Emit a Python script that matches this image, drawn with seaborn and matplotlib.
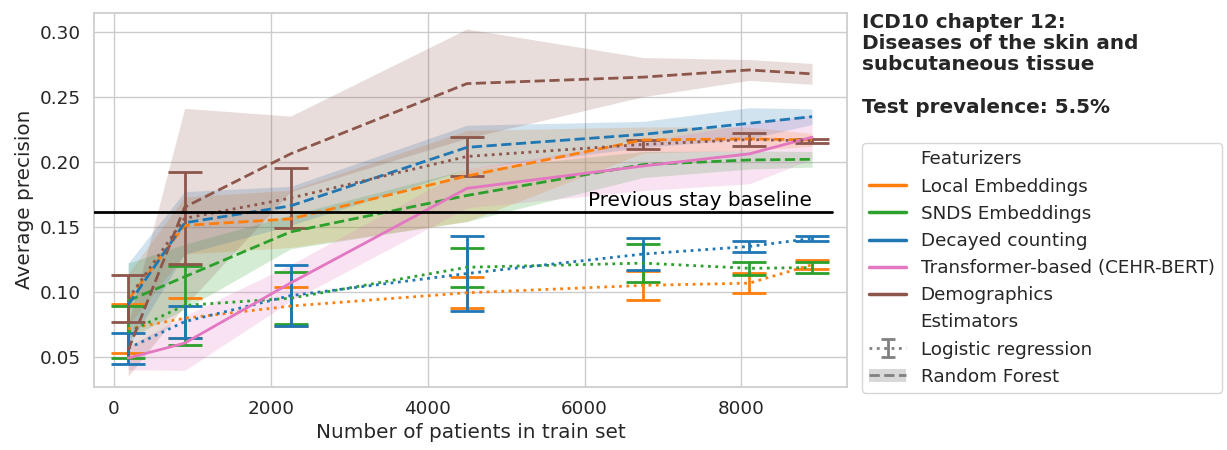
import numpy as np
import pandas as pd
import matplotlib
matplotlib.use("Agg")
import matplotlib.pyplot as plt
import seaborn as sns
from matplotlib.lines import Line2D
from matplotlib.patches import Patch

# ===============================
# data
# ===============================
n_patients = [180, 900, 2250, 4500, 6750, 8100, 8900]

featurizers = ["Local Embeddings", "SNDS Embeddings", "Decayed counting",
               "Transformer-based (CEHR-BERT)", "Demographics"]
colors = ["#ff7f0e", "#2ca02c", "#1f77b4", "#e377c2", "#8c564b"]

# logistic regression: mean + half size of error bar
lr_local = [0.0715, 0.0796, 0.089, 0.0992, 0.1049, 0.1066, 0.1208]
lr_local_err = [0.0188, 0.0154, 0.015, 0.012, 0.0113, 0.0075, 0.0036]
lr_snds = [0.069, 0.0895, 0.095, 0.1188, 0.122, 0.118, 0.1186]
lr_snds_err = [0.0202, 0.0305, 0.0198, 0.015, 0.0145, 0.0052, 0.0045]
lr_decay = [0.0565, 0.077, 0.097, 0.114, 0.129, 0.1348, 0.141]
lr_decay_err = [0.012, 0.0122, 0.0235, 0.0288, 0.012, 0.0045, 0.0022]
lr_demo = [0.0946, 0.1564, 0.172, 0.204, 0.2133, 0.217, 0.216]
lr_demo_err = [0.0182, 0.0354, 0.0233, 0.015, 0.0035, 0.0049, 0.0018]

# random forest: mean + half width of band
rf_local = [0.0937, 0.151, 0.156, 0.189, 0.2167, 0.2175, 0.2167]
rf_local_sd = [0.02, 0.022, 0.022, 0.035, 0.01, 0.009, 0.005]
rf_snds = [0.093, 0.1115, 0.146, 0.174, 0.1978, 0.2013, 0.2018]
rf_snds_sd = [0.029, 0.025, 0.013, 0.02, 0.01, 0.007, 0.006]
rf_decay = [0.09, 0.153, 0.166, 0.211, 0.221, 0.2295, 0.2346]
rf_decay_sd = [0.032, 0.024, 0.015, 0.017, 0.01, 0.012, 0.006]
rf_demo = [0.055, 0.165, 0.206, 0.260, 0.265, 0.2705, 0.2675]
rf_demo_sd = [0.02, 0.076, 0.029, 0.042, 0.015, 0.008, 0.008]

# transformer (CEHR-BERT)
bert = [0.049, 0.0605, 0.1067, 0.1795, 0.1967, 0.206, 0.2188]
bert_sd = [0.009, 0.021, 0.014, 0.015, 0.019, 0.023, 0.017]

baseline = 0.1615

# ===============================
# long table
# ===============================
lr_series = {"Local Embeddings": (lr_local, lr_local_err),
             "SNDS Embeddings": (lr_snds, lr_snds_err),
             "Decayed counting": (lr_decay, lr_decay_err),
             "Demographics": (lr_demo, lr_demo_err)}
band_series = {("Local Embeddings", "Random Forest"): (rf_local, rf_local_sd),
               ("SNDS Embeddings", "Random Forest"): (rf_snds, rf_snds_sd),
               ("Decayed counting", "Random Forest"): (rf_decay, rf_decay_sd),
               ("Transformer-based (CEHR-BERT)", "Transformer"): (bert, bert_sd),
               ("Demographics", "Random Forest"): (rf_demo, rf_demo_sd)}

rows = []
for feat, (m, e) in lr_series.items():
    for n, v in zip(n_patients, m):
        rows.append({"featurizer": feat, "estimator": "Logistic regression", "n": n, "ap": v})
for (feat, est), (m, s) in band_series.items():
    for n, v in zip(n_patients, m):
        rows.append({"featurizer": feat, "estimator": est, "n": n, "ap": v})
df = pd.DataFrame(rows)

palette = dict(zip(featurizers, colors))

# ===============================
# plot
# ===============================
sns.set_theme(style="whitegrid", font_scale=1.2)
plt.rcParams["font.family"] = ["DejaVu Sans"]

fig = plt.figure(figsize=(12.27, 4.5), dpi=100)
ax = fig.add_axes([0.0766, 0.1407, 0.6137, 0.8313])

for feat in featurizers:
    c = palette[feat]
    if feat in lr_series:
        m, e = lr_series[feat]
        ax.errorbar(n_patients, m, yerr=e, fmt="none", ecolor=c,
                    elinewidth=2, capsize=12, capthick=2, zorder=2)
for (feat, est), (m, s) in band_series.items():
    m = np.array(m)
    s = np.array(s)
    ax.fill_between(n_patients, m - s, m + s, color=palette[feat], alpha=0.2, lw=0, zorder=1)

sns.lineplot(data=df, x="n", y="ap", hue="featurizer", style="estimator",
             hue_order=featurizers, palette=palette,
             style_order=["Logistic regression", "Random Forest", "Transformer"],
             dashes={"Logistic regression": (1, 1.65), "Random Forest": (3.7, 1.6), "Transformer": ""},
             lw=2, errorbar=None, legend=False, ax=ax, zorder=3)

ax.set_xlim(-256, 9346)
ax.set_ylim(0.027, 0.3146)
ax.axhline(baseline, xmin=0, xmax=0.98, color="black", lw=2, zorder=4)
ax.text(8900, baseline + 0.001, "Previous stay baseline", ha="right", va="bottom",
        fontsize=14.4, color="black")

ax.set_xlabel("Number of patients in train set")
ax.set_ylabel("Average precision")

# legend
eb = ax.errorbar([np.nan], [np.nan], yerr=[np.nan], color="gray", ls=":", lw=2,
                 capsize=5, elinewidth=2, capthick=2)
handles = [Line2D([], [], color="none")]
labels = ["Featurizers"]
for feat in featurizers:
    handles.append(Line2D([], [], color=palette[feat], lw=2.5))
    labels.append(feat)
handles += [Line2D([], [], color="none"), eb,
            (Patch(facecolor="gray", alpha=0.3, lw=0), Line2D([], [], color="gray", ls="--", lw=2))]
labels += ["Estimators", "Logistic regression", "Random Forest"]
fig.legend(handles, labels, loc="upper left", bbox_to_anchor=(0.7025, 0.682),
           borderaxespad=0, fontsize=13.2, labelspacing=0.5)

fig.text(0.7025, 0.972,
         "ICD10 chapter 12:\nDiseases of the skin and\nsubcutaneous tissue\n\nTest prevalence: 5.5%",
         fontsize=14.4, fontweight="bold", va="top", ha="left", color="#262626",
         linespacing=1.15)

fig.savefig("out.png", dpi=100)
